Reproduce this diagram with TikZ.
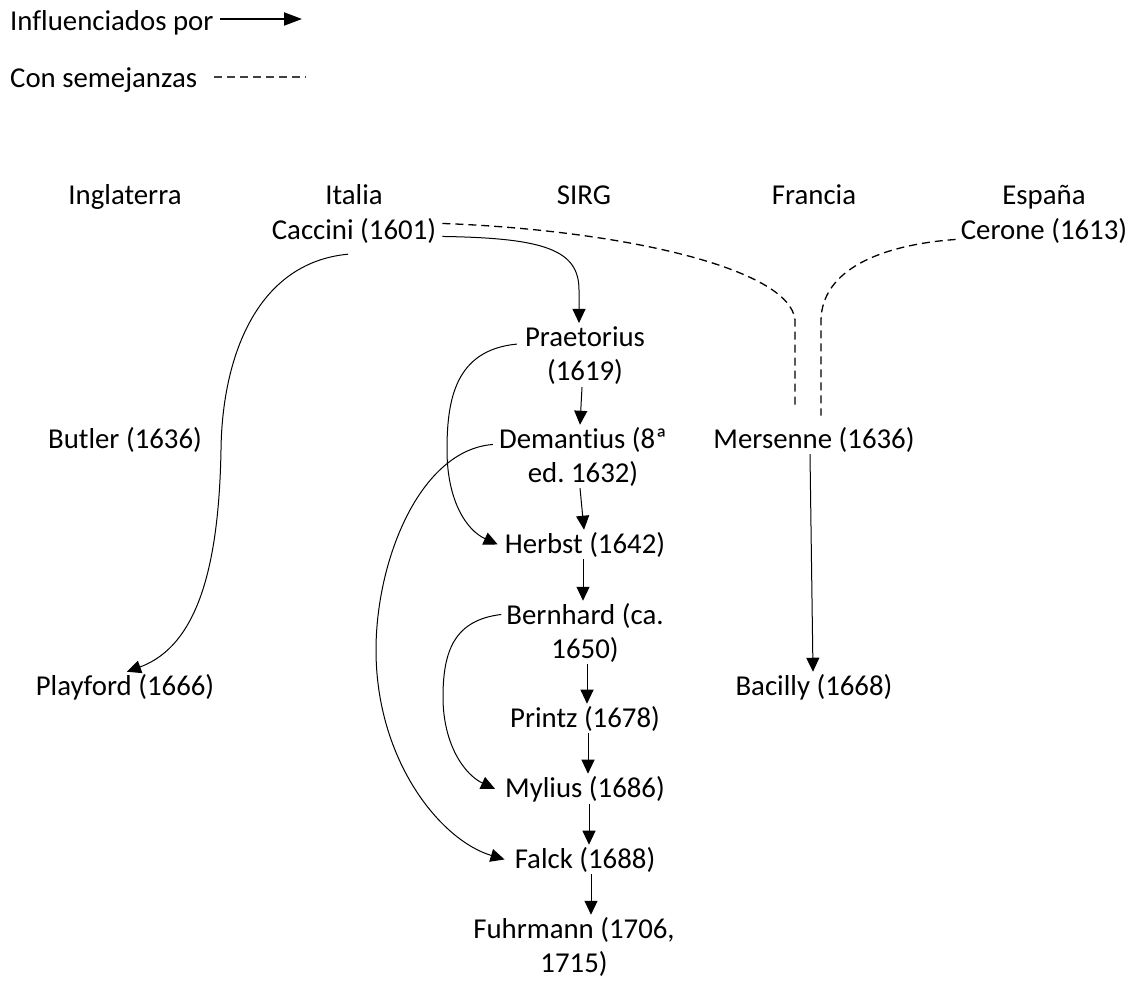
\documentclass[tikz,border=0pt]{standalone}
\usepackage{fontspec}
\setmainfont[Ligatures={NoCommon}]{Carlito}
\usetikzlibrary{arrows.meta}
\frenchspacing
\begin{document}
\begin{tikzpicture}[x=1pt,y=-1pt,
  every node/.style={font=\fontsize{28.8}{34}\selectfont\frenchspacing, inner sep=2pt},
  lbl/.style={anchor=base, align=center},
  arr/.style={line width=1pt, -{Triangle[length=14pt,width=13pt]}},
  simil/.style={line width=1.3pt, dash pattern=on 8pt off 5pt}
]
\useasboundingbox[fill=white] (0,0) rectangle (1132,981);
% legend
\node[anchor=base west, inner sep=0] (leg1) at (10,31) {Influenciados por};
\node[anchor=base west, inner sep=0] (leg2) at (10,88) {Con semejanzas};
\coordinate (leg1e) at (302,19);
\coordinate (leg2e) at (306,77);
\draw[line width=2pt, -{Triangle[length=18pt,width=13pt]}] ([xshift=6pt,yshift=12pt]leg1.base east) -- (leg1e);
\draw[simil, gray!50!black] ([xshift=17pt,yshift=11pt]leg2.base east) -- (leg2e);
% headers
\node[lbl] (ing)  at (125,205) {Inglaterra};
\node[lbl] (ita)  at (354,205) {Italia};
\node[lbl] (sirg) at (584,205) {SIRG};
\node[lbl] (fra)  at (814,205) {Francia};
\node[lbl] (esp)  at (1044,205) {España};
% authors (multi-line nodes: base = last line)
\node[lbl] (caccini) at (354,240) {Caccini (1601)};
\node[lbl] (cerone)  at (1044,240) {Cerone (1613)};
\node[lbl] (praet)   at (585,381) {Praetorius\\(1619)};
\node[lbl] (butler)  at (125,448) {Butler (1636)};
\node[lbl] (deman)   at (583,482) {Demantius (8ª\\ed. 1632)};
\node[lbl] (mersenne) at (814,448) {Mersenne (1636)};
\node[lbl] (herbst)  at (585,553) {Herbst (1642)};
\node[lbl] (bern)    at (585,658) {Bernhard (ca.\\1650)};
\node[lbl] (playford) at (125,695) {Playford (1666)};
\node[lbl] (bacilly) at (814,695) {Bacilly (1668)};
\node[lbl] (printz)  at (585,727) {Printz (1678)};
\node[lbl] (mylius)  at (585,797) {Mylius (1686)};
\node[lbl] (falck)   at (585,868) {Falck (1688)};
\node[lbl] (fuhr)    at (574,972) {Fuhrmann (1706,\\1715)};
% influence arrows
\draw[arr] ([xshift=4pt,yshift=-5pt]caccini.east) .. controls (545,238) and (579,250) .. (579,290) -- ([xshift=-6pt,yshift=2pt]praet.north);
\draw[arr] ([xshift=-6pt,yshift=-8pt]caccini.south) .. controls (255,263) and (222,360) .. (221,450) .. controls (219,560) and (200,645) .. ([xshift=2pt]playford.north);
\draw[arr] ([xshift=-6pt,yshift=12pt]praet.west) .. controls (455,350) and (447,400) .. (447,450) .. controls (447,500) and (466,530) .. ([xshift=-5pt]herbst.west);
\draw[arr] ([xshift=-4pt,yshift=12pt]deman.west) .. controls (420,450) and (376,560) .. (376,650) .. controls (376,760) and (440,840) .. ([xshift=-8pt]falck.west);
\draw[arr] ([xshift=-3pt,yshift=18pt]bern.west) .. controls (455,620) and (443,650) .. (443,697) .. controls (443,745) and (465,775) .. ([xshift=-8pt]mylius.west);
\draw[arr] ([xshift=-3pt]praet.south) -- ([xshift=-3pt]deman.north);
\draw[arr] ([xshift=-3pt]deman.south) -- ([xshift=-1pt]herbst.north);
\draw[arr] ([xshift=-2pt]herbst.south) -- ([xshift=-2pt]bern.north);
\draw[arr] ([xshift=2pt]bern.south) -- ([xshift=2pt]printz.north);
\draw[arr] ([xshift=3pt]printz.south) -- ([xshift=3pt]mylius.north);
\draw[arr] ([xshift=4pt]mylius.south) -- ([xshift=4pt]falck.north);
\draw[arr] ([xshift=6pt]falck.south) -- ([xshift=17pt]fuhr.north);
\draw[arr] ([xshift=-4pt]mersenne.south) -- ([xshift=-1pt]bacilly.north);
% similarity lines
\draw[simil] ([xshift=4pt,yshift=8pt]caccini.east) .. controls (620,230) and (790,268) .. (795,320) -- ([xshift=-19pt,yshift=16pt]mersenne.north);
\draw[simil] ([xshift=-3pt,yshift=-8pt]cerone.west) .. controls (880,245) and (822,270) .. (821,320) -- ([xshift=7pt,yshift=9pt]mersenne.north);
\end{tikzpicture}
\end{document}
